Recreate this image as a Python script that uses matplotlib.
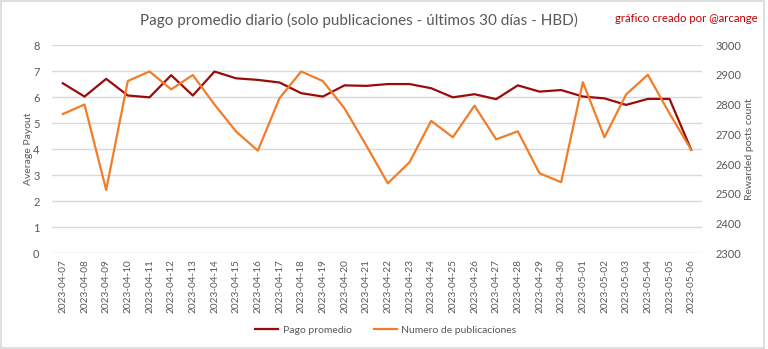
import matplotlib.pyplot as plt
from matplotlib.patches import Rectangle
from matplotlib.lines import Line2D

plt.rcParams['font.family'] = ['Lato', 'DejaVu Sans']

dates = ['2023-04-07', '2023-04-08', '2023-04-09', '2023-04-10', '2023-04-11',
         '2023-04-12', '2023-04-13', '2023-04-14', '2023-04-15', '2023-04-16',
         '2023-04-17', '2023-04-18', '2023-04-19', '2023-04-20', '2023-04-21',
         '2023-04-22', '2023-04-23', '2023-04-24', '2023-04-25', '2023-04-26',
         '2023-04-27', '2023-04-28', '2023-04-29', '2023-04-30', '2023-05-01',
         '2023-05-02', '2023-05-03', '2023-05-04', '2023-05-05', '2023-05-06']

pago_promedio = [6.53, 6.02, 6.70, 6.06, 5.99, 6.84, 6.06, 6.98, 6.72, 6.66,
                 6.56, 6.15, 6.02, 6.45, 6.43, 6.50, 6.50, 6.34, 5.99, 6.11,
                 5.92, 6.45, 6.21, 6.27, 6.02, 5.95, 5.70, 5.93, 5.93, 3.98]

num_publicaciones = [2768, 2800, 2513, 2879, 2911, 2851, 2899, 2800, 2709, 2645,
                     2821, 2911, 2879, 2787, 2663, 2535, 2606, 2745, 2690, 2796,
                     2683, 2710, 2569, 2539, 2875, 2690, 2834, 2900, 2770, 2648]

left_ticks = [0, 1, 2, 3, 4, 5, 6, 7, 8]
right_ticks = [2300, 2400, 2500, 2600, 2700, 2800, 2900, 3000]

RED = '#9c0b0b'
ORANGE = '#f17d2a'
GRAY = '#595959'
GRID = '#d9d9d9'

fig = plt.figure(figsize=(7.68, 3.49), dpi=100)
fig.patches.append(Rectangle((0.001, 0.002), 0.994, 0.995, transform=fig.transFigure,
                             fill=False, edgecolor=GRID, linewidth=1.2))

ax = fig.add_axes([52 / 768, 1 - 253.3 / 349, 650 / 768, 208.3 / 349])
ax2 = ax.twinx()

x = list(range(len(dates)))
ax.plot(x, pago_promedio, color=RED, linewidth=1.6, zorder=3)
ax2.plot(x, num_publicaciones, color=ORANGE, linewidth=1.6, zorder=2)

ax.set_xlim(-0.5, len(dates) - 0.5)
ax.set_ylim(0, 8)
ax.set_yticks(left_ticks)
ax2.set_ylim(2300, 3000)
ax2.set_yticks(right_ticks)

ax.set_xticks(x)
ax.set_xticklabels(dates, rotation=90, fontsize=7.2, color=GRAY)
ax.tick_params(axis='x', length=0, pad=4)
ax.tick_params(axis='y', length=0, labelsize=8, colors=GRAY, pad=9)
ax2.tick_params(axis='y', length=0, labelsize=8, colors=GRAY, pad=10)

ax.grid(axis='y', color=GRID, linewidth=1)
ax.set_axisbelow(True)
for a in (ax, ax2):
    for s in a.spines.values():
        s.set_visible(False)

ax.set_ylabel('Average Payout', fontsize=7.5, color=GRAY, labelpad=0)
ax2.set_ylabel('Rewarded posts count', fontsize=7.5, color=GRAY, labelpad=2.5)

fig.text(359 / 768, 1 - 20 / 349, 'Pago promedio diario (solo publicaciones - últimos 30 días - HBD)',
         ha='center', va='center', fontsize=11, color=GRAY)
fig.text(758 / 768, 1 - 19 / 349, 'gráfico creado por @arcange',
         ha='right', va='center', fontsize=8.2, color='#c00000')

handles = [Line2D([], [], color=RED, linewidth=1.6),
           Line2D([], [], color=ORANGE, linewidth=1.6)]
fig.legend(handles, ['Pago promedio', 'Numero de publicaciones'],
           loc='center', bbox_to_anchor=(386 / 768, 1 - 330 / 349), ncol=2,
           frameon=False, fontsize=7.5, handlelength=2.2, columnspacing=2.2,
           handletextpad=0.4, labelcolor=GRAY)

fig.savefig('out.png', dpi=100)
